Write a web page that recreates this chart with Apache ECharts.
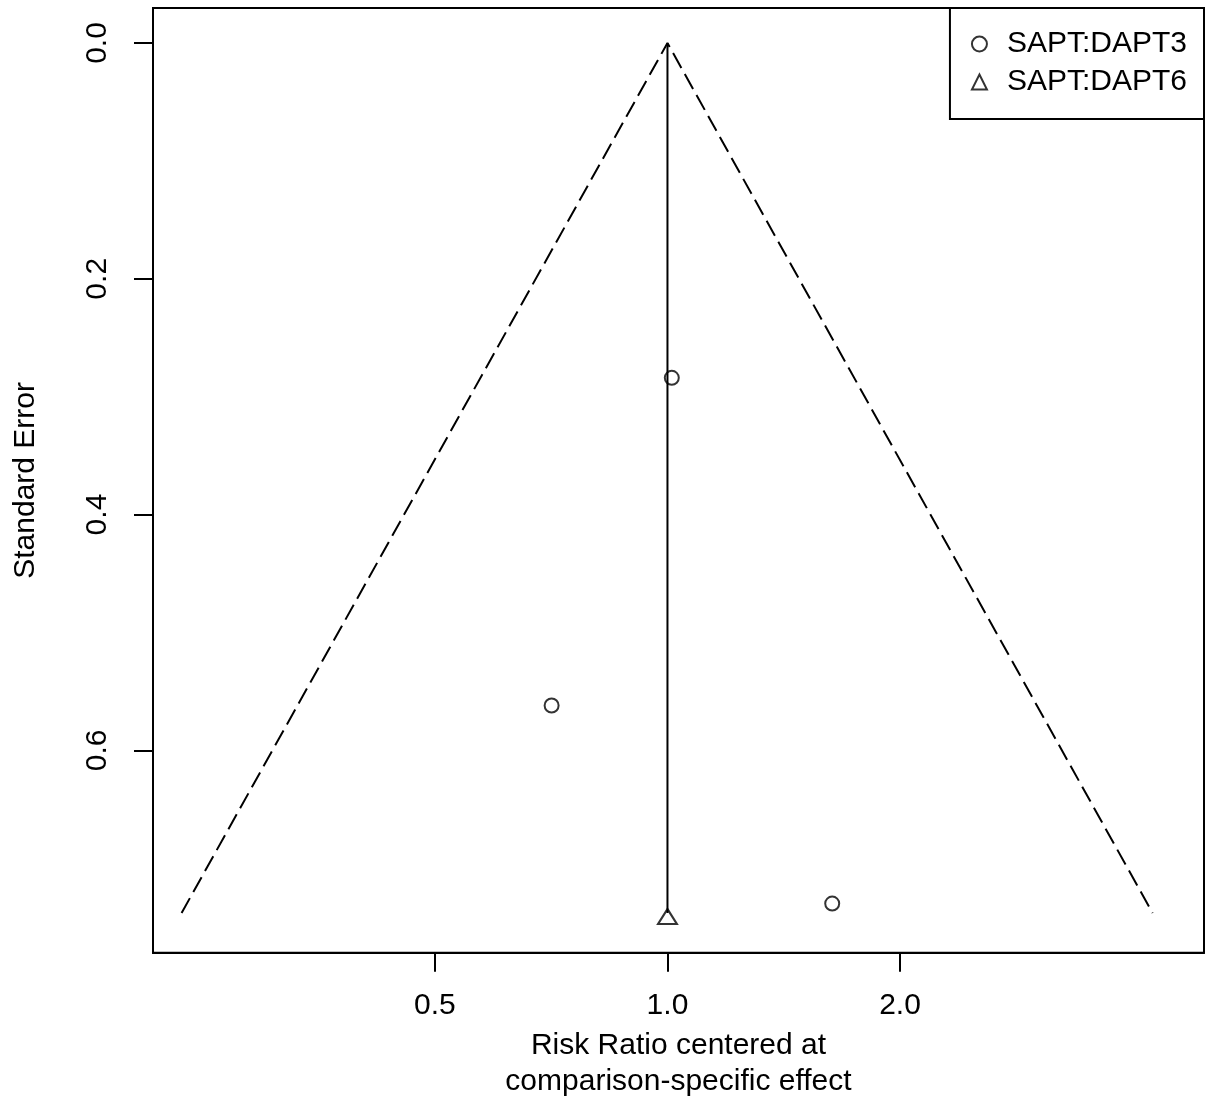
<!DOCTYPE html>
<html>
<head>
<meta charset="utf-8">
<script src="https://cdn.jsdelivr.net/npm/echarts@6/dist/echarts.min.js"></script>
<style>
html,body{margin:0;padding:0;background:#fff;}
#chart{width:1206px;height:1107px;}
</style>
</head>
<body>
<div id="chart"></div>
<script>
// Data
var dapt3RR = [1.013, 0.708, 1.634];
var dapt3SE = [0.284, 0.562, 0.730];
var dapt6RR = [1.0];
var dapt6SE = [0.741];
var funnelRR = [0.235, 1.0, 4.246];
var funnelSE = [0.738, 0.0, 0.738];
var centerRR = [1.0, 1.0];
var centerSE = [0.0, 0.738];
var xTicks = [0.5, 1.0, 2.0];
var yTicks = [0.0, 0.2, 0.4, 0.6];
var seriesNames = ['SAPT:DAPT3', 'SAPT:DAPT6'];

function pts(rr, se) {
  return rr.map(function (v, i) { return [Math.log2(v), se[i]]; });
}

var FONT = "'Liberation Sans', Arial, Helvetica, sans-serif";
var chart = echarts.init(document.getElementById('chart'), null, {renderer: 'canvas'});

var option = {
  backgroundColor: '#ffffff',
  animation: false,
  grid: {
    left: 153, right: 2, top: 8, bottom: 154.3,
    show: true, borderColor: '#000', borderWidth: 2, backgroundColor: 'transparent'
  },
  xAxis: {
    type: 'value',
    min: Math.log2(0.2158),
    max: Math.log2(4.949),
    axisLine: {show: true, onZero: false, lineStyle: {color: '#000', width: 2}},
    axisTick: {show: true, inside: false, length: 19, lineStyle: {color: '#000', width: 2},
               customValues: xTicks.map(Math.log2)},
    axisLabel: {
      customValues: xTicks.map(Math.log2),
      margin: 38, color: '#000', fontSize: 30, fontFamily: FONT,
      formatter: function (v) { return Math.pow(2, v).toFixed(1); }
    },
    splitLine: {show: false},
    name: 'Risk Ratio centered at\ncomparison-specific effect',
    nameLocation: 'middle',
    nameGap: 75,
    nameTextStyle: {color: '#000', fontSize: 30, fontFamily: FONT, lineHeight: 36}
  },
  yAxis: {
    type: 'value',
    inverse: true,
    min: -0.0297,
    max: 0.7717,
    axisLine: {show: true, onZero: false, lineStyle: {color: '#000', width: 2}},
    axisTick: {show: true, inside: false, length: 19, lineStyle: {color: '#000', width: 2},
               customValues: yTicks},
    axisLabel: {
      customValues: yTicks,
      rotate: 90,
      margin: 40, color: '#000', fontSize: 30, fontFamily: FONT,
      formatter: function (v) { return v.toFixed(1); }
    },
    splitLine: {show: false},
    name: 'Standard Error',
    nameLocation: 'middle',
    nameGap: 112,
    nameRotate: 90,
    nameTextStyle: {color: '#000', fontSize: 30, fontFamily: FONT}
  },
  legend: {
    data: seriesNames,
    orient: 'vertical',
    right: 2,
    top: 8,
    padding: [21, 17, 22, 21],
    itemGap: 8,
    itemWidth: 15,
    itemHeight: 15,
    borderColor: '#000',
    borderWidth: 2,
    backgroundColor: '#fff',
    itemStyle: {color: 'rgba(255,255,255,0)', borderColor: '#000', borderWidth: 2},
    textStyle: {color: '#000', fontSize: 30, fontFamily: FONT, lineHeight: 30, padding: [0, 0, 0, 15]}
  },
  series: [
    {
      type: 'line',
      name: 'funnel',
      data: pts(funnelRR, funnelSE),
      symbol: 'none',
      silent: true,
      lineStyle: {color: '#000', width: 2, type: [17, 7]},
      z: 1
    },
    {
      type: 'line',
      name: 'center',
      data: pts(centerRR, centerSE),
      symbol: 'none',
      silent: true,
      lineStyle: {color: '#000', width: 2},
      z: 1
    },
    {
      type: 'scatter',
      name: seriesNames[0],
      data: pts(dapt3RR, dapt3SE),
      symbol: 'circle',
      symbolSize: 14,
      itemStyle: {color: 'rgba(255,255,255,0)', borderColor: '#000', borderWidth: 2},
      z: 3
    },
    {
      type: 'scatter',
      name: seriesNames[1],
      data: pts(dapt6RR, dapt6SE),
      symbol: 'triangle',
      symbolSize: [19, 15],
      itemStyle: {color: 'rgba(255,255,255,0)', borderColor: '#000', borderWidth: 2},
      z: 3
    }
  ]
};
chart.setOption(option);
</script>
</body>
</html>
